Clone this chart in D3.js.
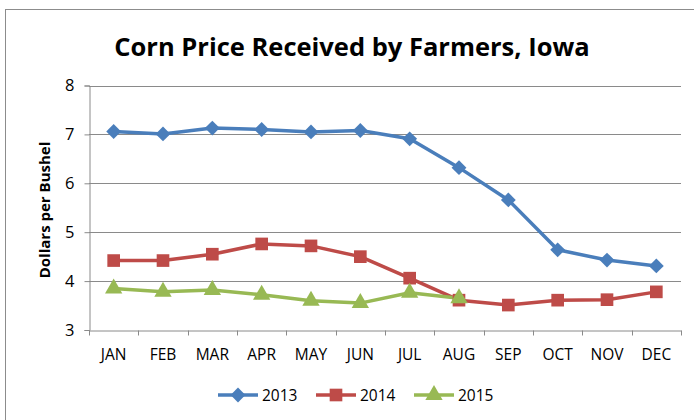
<!DOCTYPE html>
<html>
<head>
<meta charset="utf-8">
<script src="https://d3js.org/d3.v7.min.js"></script>
<style>
  body { margin: 0; background: #fff; }
  svg text { font-family: "Open Sans", "Liberation Sans", sans-serif; fill: #000; }
</style>
</head>
<body>
<script>
// chart data
var months = ["JAN", "FEB", "MAR", "APR", "MAY", "JUN", "JUL", "AUG", "SEP", "OCT", "NOV", "DEC"];
var years = ["2013", "2014", "2015"];
var price2013 = [7.06, 7.01, 7.13, 7.10, 7.05, 7.08, 6.91, 6.32, 5.66, 4.64, 4.43, 4.31];
var price2014 = [4.42, 4.42, 4.55, 4.76, 4.72, 4.50, 4.06, 3.61, 3.51, 3.61, 3.62, 3.78];
var price2015 = [3.85, 3.78, 3.82, 3.72, 3.60, 3.55, 3.76, 3.65];
var yTicks = [3, 4, 5, 6, 7, 8];

var w = 694, h = 420;
var colors = ["#4A7EBB", "#BE4B48", "#98B954"];

// excel-like square diamond
var squareDiamond = {
    draw: function(ctx, size){
        var r = Math.sqrt(size) / 2 * Math.SQRT2;
        ctx.moveTo(0, -r); ctx.lineTo(r, 0); ctx.lineTo(0, r); ctx.lineTo(-r, 0); ctx.closePath();
    }
};
var symbols = [squareDiamond, d3.symbolSquare, d3.symbolTriangle];
var symSizes = [110, 160, 130];

var series = [price2013, price2014, price2015].map(function(vals, i){
    return { name: years[i], values: vals, color: colors[i], symbol: symbols[i], size: symSizes[i] };
});

var svg = d3.select("body").append("svg")
    .attr("width", w)
    .attr("height", h);

// chart border
svg.append("rect")
    .attr("x", 5.5).attr("y", 9.5)
    .attr("width", 700).attr("height", 420)
    .attr("fill", "#fff")
    .attr("stroke", "#8c8c8c");

var x = d3.scaleBand()
    .domain(months)
    .range([89, 681]);

var y = d3.scaleLinear()
    .domain([3, 8])
    .range([330, 85.5]);

// gridlines
svg.append("g").selectAll("line")
    .data(yTicks.slice(1))
    .enter().append("line")
    .attr("x1", 89).attr("x2", 681)
    .attr("y1", function(d){ return Math.round(y(d)) + 0.5; })
    .attr("y2", function(d){ return Math.round(y(d)) + 0.5; })
    .attr("stroke", "#8a8a8a")
    .attr("stroke-width", 1);

// y axis
var yAxis = svg.append("g")
    .attr("transform", "translate(89.5,0)")
    .call(d3.axisLeft(y).tickValues(yTicks).tickFormat(d3.format("d")).tickSize(5).tickPadding(10));

// x axis
var xAxis = svg.append("g")
    .attr("transform", "translate(0," + (Math.round(y(3)) + 0.5) + ")")
    .call(d3.axisBottom(x).tickSize(0).tickPadding(18));

// category boundary ticks
xAxis.selectAll(".bnd")
    .data(d3.range(months.length + 1))
    .enter().append("line")
    .attr("class", "bnd")
    .attr("x1", function(i){ return Math.round(89 + i * x.step()) + 0.5; })
    .attr("x2", function(i){ return Math.round(89 + i * x.step()) + 0.5; })
    .attr("y1", 0).attr("y2", 5);

svg.selectAll(".domain, .tick line, .bnd")
    .attr("stroke", "#8a8a8a");
svg.selectAll(".tick text")
    .style("font-size", "15.5px")
    .attr("fill", "#000");
yAxis.selectAll(".tick text").style("font-size", "16.5px");

// title
svg.append("text")
    .attr("x", 352)
    .attr("y", 56)
    .attr("text-anchor", "middle")
    .style("font-size", "25.5px")
    .style("font-weight", "bold")
    .text("Corn Price Received by Farmers, Iowa");

// y axis title
svg.append("text")
    .attr("transform", "translate(50,210) rotate(-90)")
    .attr("text-anchor", "middle")
    .style("font-size", "15px")
    .style("font-weight", "bold")
    .text("Dollars per Bushel");

var line = d3.line()
    .x(function(d, i){ return x(months[i]) + x.bandwidth() / 2; })
    .y(function(d){ return y(d); });

// series lines
svg.append("g").selectAll("path")
    .data(series)
    .enter().append("path")
    .attr("d", function(s){ return line(s.values); })
    .attr("fill", "none")
    .attr("stroke", function(s){ return s.color; })
    .attr("stroke-width", 3.5)
    .attr("stroke-linejoin", "round");

// markers
series.forEach(function(s){
    svg.append("g").selectAll("path")
        .data(s.values)
        .enter().append("path")
        .attr("transform", function(d, i){
            return "translate(" + (x(months[i]) + x.bandwidth() / 2) + "," + y(d) + ")";
        })
        .attr("d", d3.symbol().type(s.symbol).size(s.size))
        .attr("fill", s.color);
});

// legend
var legendX = [218, 316, 414];
var legend = svg.append("g").selectAll("g")
    .data(series)
    .enter().append("g")
    .attr("transform", function(s, i){ return "translate(" + legendX[i] + ",395)"; });

legend.append("line")
    .attr("x1", 0).attr("x2", 40)
    .attr("stroke", function(s){ return s.color; })
    .attr("stroke-width", 3.5);

legend.append("path")
    .attr("transform", "translate(20,0)")
    .attr("d", function(s){ return d3.symbol().type(s.symbol).size(s.size)(); })
    .attr("fill", function(s){ return s.color; });

legend.append("text")
    .attr("x", 44)
    .attr("dy", "0.36em")
    .style("font-size", "15.5px")
    .text(function(s){ return s.name; });
</script>
</body>
</html>
